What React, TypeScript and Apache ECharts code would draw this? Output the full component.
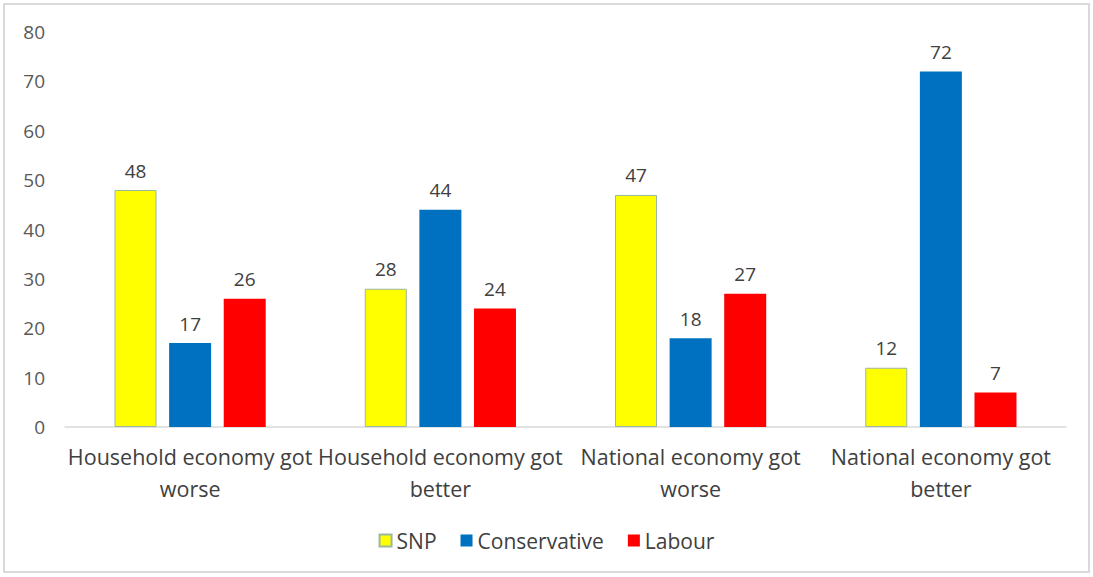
import React, { useEffect, useRef } from "react";
import * as echarts from "echarts";

const categories = [
  "Household economy got\nworse",
  "Household economy got\nbetter",
  "National economy got\nworse",
  "National economy got\nbetter",
];
const snp = [48, 28, 47, 12];
const conservative = [17, 44, 18, 72];
const labour = [26, 24, 27, 7];
const yTicks = { min: 0, max: 80, interval: 10 };

const FONT = "Open Sans";

export default function App() {
  const ref = useRef<HTMLDivElement>(null);
  useEffect(() => {
    const chart = echarts.init(ref.current!, null, { renderer: "svg" });
    const label = {
      show: true,
      position: "top",
      distance: 10,
      color: "#404040",
      fontSize: 19,
      fontFamily: FONT,
    };
    chart.setOption({
      animation: false,
      backgroundColor: "#ffffff",
      graphic: [
        {
          type: "rect",
          shape: { x: 4, y: 4, width: 1085, height: 568 },
          style: { fill: "none", stroke: "#d9d9d9", lineWidth: 2 },
          silent: true,
        },
      ],
      grid: { left: 65, right: 27, top: 32, bottom: 150 },
      legend: {
        bottom: 21,
        left: "center",
        itemWidth: 12,
        itemHeight: 12,
        itemGap: 24,
        icon: "rect",
        textStyle: { color: "#404040", fontSize: 21, fontFamily: FONT },
        data: ["SNP", "Conservative", "Labour"],
      },
      xAxis: {
        type: "category",
        data: categories,
        axisLine: { lineStyle: { color: "#d9d9d9", width: 1.5 } },
        axisTick: { show: false },
        axisLabel: {
          color: "#404040",
          fontSize: 21.5,
          fontFamily: FONT,
          lineHeight: 32,
          margin: 13,
          interval: 0,
        },
      },
      yAxis: {
        type: "value",
        min: yTicks.min,
        max: yTicks.max,
        interval: yTicks.interval,
        splitLine: { show: false },
        axisLine: { show: false },
        axisTick: { show: false },
        axisLabel: {
          color: "#595959",
          fontSize: 19,
          fontFamily: FONT,
          margin: 20,
        },
      },
      series: [
        {
          name: "SNP",
          type: "bar",
          data: snp,
          barWidth: 42,
          barGap: "30%",
          itemStyle: { color: "#ffff00", borderColor: "#9bb7a0", borderWidth: 1 },
          label,
        },
        {
          name: "Conservative",
          type: "bar",
          data: conservative,
          barWidth: 42,
          barGap: "30%",
          itemStyle: { color: "#0070c0" },
          label,
        },
        {
          name: "Labour",
          type: "bar",
          data: labour,
          barWidth: 42,
          barGap: "30%",
          itemStyle: { color: "#ff0000" },
          label,
        },
      ],
    });
    return () => chart.dispose();
  }, []);
  return (
    <div
      ref={ref}
      style={{ position: "fixed", left: 0, top: 0, width: 1093, height: 577 }}
    />
  );
}
